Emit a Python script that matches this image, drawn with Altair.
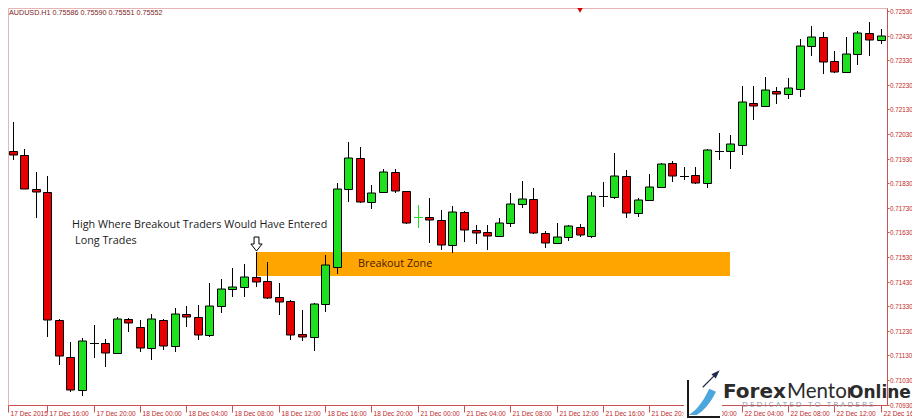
import altair as alt
import pandas as pd

# ---------------- data ----------------
symbol_title = "AUDUSD.H1  0.75586 0.75590 0.75551 0.75552"
time_labels = ["17 Dec 2015", "17 Dec 16:00", "17 Dec 20:00", "18 Dec 00:00", "18 Dec 04:00",
               "18 Dec 08:00", "18 Dec 12:00", "18 Dec 16:00", "18 Dec 20:00", "21 Dec 00:00",
               "21 Dec 04:00", "21 Dec 08:00", "21 Dec 12:00", "21 Dec 16:00", "21 Dec 20:00",
               "22 Dec 00:00", "22 Dec 04:00", "22 Dec 08:00", "22 Dec 12:00", "22 Dec 16:00"]
bars_per_label = 4
price_ticks = [0.70930, 0.71030, 0.71130, 0.71230, 0.71330, 0.71430, 0.71530, 0.71630, 0.71730,
               0.71830, 0.71930, 0.72030, 0.72130, 0.72230, 0.72330, 0.72430, 0.72530]

opens = [0.72034, 0.71961, 0.71945, 0.71806, 0.71794, 0.71274, 0.71124, 0.70989, 0.71180, 0.71180,
         0.71140, 0.71278, 0.71245, 0.71160, 0.71274, 0.71168, 0.71298, 0.71286, 0.71213, 0.71331,
         0.71400, 0.71408, 0.71449, 0.71432, 0.71367, 0.71351, 0.71217, 0.71205, 0.71339, 0.71489,
         0.71806, 0.71932, 0.71754, 0.71794, 0.71876, 0.71798, 0.71693, 0.71693, 0.71680, 0.71579,
         0.71713, 0.71640, 0.71632, 0.71615, 0.71668, 0.71745, 0.71766, 0.71628, 0.71587, 0.71611,
         0.71652, 0.71615, 0.71778, 0.71774, 0.71859, 0.71709, 0.71762, 0.71815, 0.71912, 0.71859,
         0.71863, 0.71831, 0.71961, 0.71961, 0.71985, 0.72156, 0.72144, 0.72205, 0.72193, 0.72213,
         0.72388, 0.72424, 0.72327, 0.72282, 0.72355, 0.72441, 0.72412]
highs = [0.72148, 0.72079, 0.71969, 0.71876, 0.71859, 0.71278, 0.71184, 0.71201, 0.71254, 0.71197,
         0.71286, 0.71282, 0.71274, 0.71298, 0.71278, 0.71323, 0.71331, 0.71335, 0.71424, 0.71441,
         0.71485, 0.71502, 0.71550, 0.71510, 0.71424, 0.71355, 0.71315, 0.71343, 0.71538, 0.71831,
         0.71998, 0.71977, 0.71823, 0.71888, 0.71888, 0.71800, 0.71741, 0.71770, 0.71721, 0.71737,
         0.71717, 0.71660, 0.71660, 0.71689, 0.71790, 0.71839, 0.71810, 0.71636, 0.71668, 0.71660,
         0.71664, 0.71794, 0.71835, 0.71953, 0.71884, 0.71770, 0.71867, 0.71912, 0.71920, 0.71896,
         0.71896, 0.71969, 0.72034, 0.72026, 0.72225, 0.72225, 0.72262, 0.72221, 0.72258, 0.72416,
         0.72469, 0.72445, 0.72367, 0.72424, 0.72450, 0.72485, 0.72457]
lows = [0.71957, 0.71924, 0.71806, 0.71689, 0.71205, 0.71091, 0.70981, 0.70965, 0.71119, 0.71083,
        0.71140, 0.71225, 0.71144, 0.71111, 0.71152, 0.71144, 0.71245, 0.71193, 0.71205, 0.71302,
        0.71367, 0.71367, 0.71408, 0.71359, 0.71294, 0.71193, 0.71189, 0.71148, 0.71306, 0.71461,
        0.71754, 0.71750, 0.71725, 0.71790, 0.71790, 0.71664, 0.71648, 0.71587, 0.71558, 0.71546,
        0.71591, 0.71583, 0.71558, 0.71611, 0.71652, 0.71729, 0.71624, 0.71567, 0.71583, 0.71595,
        0.71611, 0.71607, 0.71733, 0.71766, 0.71689, 0.71693, 0.71758, 0.71811, 0.71835, 0.71843,
        0.71827, 0.71810, 0.71924, 0.71888, 0.71945, 0.72087, 0.72140, 0.72152, 0.72172, 0.72180,
        0.72347, 0.72274, 0.72278, 0.72278, 0.72310, 0.72347, 0.72396]
closes = [0.71965, 0.71945, 0.71806, 0.71794, 0.71274, 0.71128, 0.70989, 0.71189, 0.71180, 0.71140,
          0.71278, 0.71262, 0.71160, 0.71278, 0.71168, 0.71298, 0.71286, 0.71213, 0.71331, 0.71400,
          0.71408, 0.71449, 0.71428, 0.71363, 0.71347, 0.71213, 0.71205, 0.71339, 0.71497, 0.71806,
          0.71932, 0.71754, 0.71790, 0.71876, 0.71798, 0.71668, 0.71693, 0.71680, 0.71579, 0.71713,
          0.71640, 0.71628, 0.71615, 0.71668, 0.71745, 0.71766, 0.71628, 0.71587, 0.71611, 0.71656,
          0.71619, 0.71778, 0.71778, 0.71859, 0.71709, 0.71762, 0.71815, 0.71908, 0.71859, 0.71859,
          0.71831, 0.71965, 0.71961, 0.71989, 0.72160, 0.72144, 0.72209, 0.72193, 0.72217, 0.72388,
          0.72424, 0.72323, 0.72282, 0.72355, 0.72441, 0.72412, 0.72428]
green_cross_bars = [36]

zone_start_bar, zone_end_bar = 22, 63
zone_low, zone_high = 0.71453, 0.71550
zone_label = "Breakout Zone"
zone_label_bar, zone_label_price = 30.84, 0.71502
note_lines = ["High Where Breakout Traders Would Have Entered", "Long Trades"]
note_bar = [6.13, 6.39]
note_price = [0.71660, 0.71595]
arrow_bar, arrow_price = 22, 0.71583

# ---------------- styling ----------------
UP, DOWN, WICK = "#1ee01e", "#e80000", "#000000"
AXIS_RED, LABEL_RED = "#c85050", "#c02828"
W, H = 879, 397
X_DOMAIN = [0.605, 76.55]
Y_DOMAIN = [0.709284, 0.725422]

xs = alt.Scale(domain=X_DOMAIN, nice=False, zero=False, padding=0, round=True)
ys = alt.Scale(domain=Y_DOMAIN, nice=False, zero=False, padding=0, round=True)

df = pd.DataFrame({"bar": list(range(len(opens))), "open": opens, "high": highs,
                   "low": lows, "close": closes})
df["kind"] = ["up" if c > o else ("down" if c < o else "doji") for o, c in zip(opens, closes)]
df["body"] = [UP if k == "up" else DOWN for k in df["kind"]]
df["wick"] = [UP if b in green_cross_bars else WICK for b in df["bar"]]

label_expr = "[" + ",".join("'%s'" % s for s in time_labels) + "][round(datum.value / %d)]" % bars_per_label
x_values = [X_DOMAIN[0]] + [bars_per_label * k for k in range(1, len(time_labels))]

xaxis = alt.Axis(orient="bottom", values=x_values, labelExpr=label_expr, title=None, grid=False,
                 labelAlign="left", labelBaseline="middle", labelOffset=2, labelPadding=1,
                 tickSize=7, labelFlush=False, labelOverlap=False, labelFont="Liberation Sans",
                 labelFontSize=6.6, labelColor=LABEL_RED, domainColor=AXIS_RED, tickColor=AXIS_RED)
yaxis = alt.Axis(orient="right", values=price_ticks, format=".5f", title=None, grid=False,
                 tickSize=2, labelPadding=0.5, labelFont="Liberation Sans", labelFontSize=6.3,
                 labelBaseline="middle", labelColor=LABEL_RED, domainColor=AXIS_RED,
                 tickColor=AXIS_RED, labelOverlap=False, labelFlush=False)


def X(field):
    return alt.X(field, scale=xs, axis=xaxis)


def Y(field):
    return alt.Y(field, scale=ys, axis=yaxis)


zone = alt.Chart(pd.DataFrame({"x0": [zone_start_bar], "x1": [zone_end_bar],
                               "lo": [zone_low], "hi": [zone_high]})).mark_rect(
    color="#ffa500", opacity=1).encode(x=X("x0:Q"), x2="x1:Q", y=Y("lo:Q"), y2="hi:Q")

wicks = alt.Chart(df).mark_rule(strokeWidth=1, xOffset=0.5).encode(
    x=X("bar:Q"), y=Y("low:Q"), y2="high:Q", color=alt.Color("wick:N", scale=None))

bodies = alt.Chart(df).transform_filter("datum.kind != 'doji'").mark_bar(
    size=8, stroke="#000000", strokeWidth=1, xOffset=0.5, yOffset=0.5, opacity=1).encode(
    x=X("bar:Q"), y=Y("open:Q"), y2="close:Q", color=alt.Color("body:N", scale=None))

dojis = alt.Chart(df).transform_filter("datum.kind == 'doji'").mark_tick(
    orient="horizontal", size=9, thickness=1, xOffset=0.5, yOffset=0.5, opacity=1).encode(
    x=X("bar:Q"), y=Y("open:Q"), color=alt.Color("wick:N", scale=None))

notes = alt.Chart(pd.DataFrame({"x": note_bar, "p": note_price, "t": note_lines})).mark_text(
    align="left", baseline="middle", font="Open Sans", fontSize=10.8, color="#1a1a1a").encode(
    x=X("x:Q"), y=Y("p:Q"), text="t:N")

zone_text = alt.Chart(pd.DataFrame({"x": [zone_label_bar], "p": [zone_label_price],
                                    "t": [zone_label]})).mark_text(
    align="left", baseline="middle", font="Open Sans", fontSize=10.8, color="#4a1a00").encode(
    x=X("x:Q"), y=Y("p:Q"), text="t:N")

arrow = alt.Chart(pd.DataFrame({"x": [arrow_bar], "p": [arrow_price]})).mark_point(
    shape="M-0.35,-1 L0.35,-1 L0.35,0 L0.8,0 L0,1 L-0.8,0 L-0.35,0 Z", size=196,
    filled=True, fill="#ffffff", stroke="#000000", strokeWidth=1, opacity=1, xOffset=0.5).encode(
    x=X("x:Q"), y=Y("p:Q"))

one = pd.DataFrame({"a": [0]})
title_txt = alt.Chart(one).mark_text(text=symbol_title, align="left", baseline="top",
                                     font="Liberation Sans", fontSize=7.2, color="#7a1c1c").encode(
    x=alt.value(1), y=alt.value(1))
shift_marker = alt.Chart(one).mark_point(shape="triangle-down", size=40, filled=True,
                                        color="#d40000", opacity=1).encode(
    x=alt.value(572), y=alt.value(2))

# logo watermark
logo_bg = alt.Chart(one).mark_rect(color="#ffffff").encode(
    x=alt.value(676), x2=alt.value(714), y=alt.value(363), y2=alt.value(412))
logo_v = alt.Chart(one).mark_rule(color="#1a1a1a", strokeWidth=2).encode(
    x=alt.value(680), y=alt.value(372), y2=alt.value(410))
logo_h = alt.Chart(one).mark_rule(color="#1a1a1a", strokeWidth=2).encode(
    x=alt.value(679), x2=alt.value(712), y=alt.value(409))
logo_swoosh = alt.Chart(one).mark_point(
    shape="M-1,1 C-0.4,0.6 0.0,0.0 0.35,-0.75 L0.8,-0.55 C0.45,0.2 -0.1,0.8 -0.5,1 Z",
    size=900, filled=True, color="#4aa6dc", opacity=1).encode(x=alt.value(696), y=alt.value(392))
logo_arrow = alt.Chart(one).mark_point(
    shape="M-1,0.9 L0.25,-0.35 L0.05,-0.55 L1,-1 L0.55,-0.05 L0.35,-0.25 L-0.9,1 Z",
    size=300, filled=True, color="#1d2b4f", opacity=1).encode(x=alt.value(703), y=alt.value(371))
logo_forex = alt.Chart(one).mark_text(text="Forex", align="left", baseline="alphabetic",
                                      font="DejaVu Sans", fontWeight="bold", fontSize=20,
                                      color="#2b2b2b").encode(x=alt.value(715), y=alt.value(390))
logo_mentor = alt.Chart(one).mark_text(text="Mentor", align="left", baseline="alphabetic",
                                       font="Lato", fontSize=20.5, color="#2b2b2b").encode(
    x=alt.value(779), y=alt.value(390))
logo_online = alt.Chart(one).mark_text(text="Online", align="left", baseline="alphabetic",
                                       font="DejaVu Sans", fontWeight="bold", fontSize=17,
                                       color="#2b2b2b").encode(x=alt.value(841), y=alt.value(390))
logo_tag = alt.Chart(one).mark_text(
    text="D\u00a0E\u00a0D\u00a0I\u00a0C\u00a0A\u00a0T\u00a0E\u00a0D\u00a0\u00a0\u00a0T\u00a0O"
         "\u00a0\u00a0\u00a0T\u00a0R\u00a0A\u00a0D\u00a0E\u00a0R\u00a0S",
    align="left", baseline="alphabetic", font="Open Sans", fontSize=8,
    color="#8a96a3").encode(x=alt.value(734), y=alt.value(399))

chart = alt.layer(
    zone, wicks, bodies, dojis, notes, zone_text, arrow, title_txt, shift_marker,
    logo_bg, logo_v, logo_h, logo_swoosh, logo_arrow, logo_forex, logo_mentor, logo_online, logo_tag
).properties(
    width=W, height=H,
    padding={"left": 0, "top": 0, "right": 25, "bottom": 15},
    autosize=alt.AutoSizeParams(type="none"),
    background="#ffffff",
).configure_view(stroke="#e6b4b4", strokeWidth=1)

chart.save("out.html", embed_options={"renderer": "svg", "actions": False})
